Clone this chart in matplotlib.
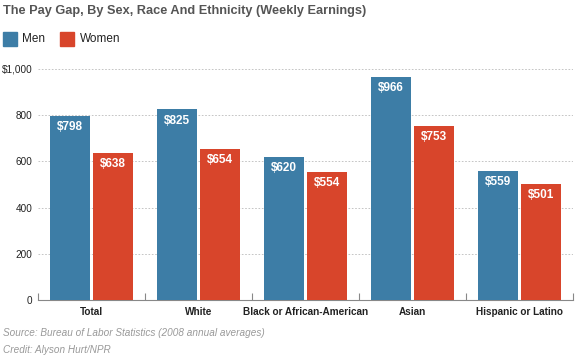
import matplotlib.pyplot as plt
import numpy as np

# data
groups = ['Total', 'White', 'Black or African-American', 'Asian', 'Hispanic or Latino']
men = [798, 825, 620, 966, 559]
women = [638, 654, 554, 753, 501]
yticks = [0, 200, 400, 600, 800, 1000]
ytick_labels = ['0', '200', '400', '600', '800', '$1,000']

blue = '#3d7da6'
red = '#d8452b'

plt.rcParams['font.family'] = ['Liberation Sans', 'DejaVu Sans']

fig = plt.figure(figsize=(5.78, 3.56), dpi=100)
ax = fig.add_axes([38 / 578, 1 - 300 / 356, 535 / 578, 231 / 356])

x = np.arange(len(groups))
w = 0.375
off = 0.2
b1 = ax.bar(x - off, men, w, color=blue, zorder=3)
b2 = ax.bar(x + off, women, w, color=red, zorder=3)

# value labels inside the top of each bar
for bars, vals in ((b1, men), (b2, women)):
    for rect, v in zip(bars, vals):
        ax.text(rect.get_x() + rect.get_width() / 2, v - 48, '$%d' % v,
                ha='center', va='center', color='white', fontsize=8.5,
                fontweight='bold', zorder=4)

ax.set_xlim(-0.5, len(groups) - 0.5)
ax.set_ylim(0, 1000)
ax.set_yticks(yticks)
ax.set_yticklabels(ytick_labels, fontsize=7.2, color='#222222')
ax.tick_params(axis='y', length=0, pad=4)
ax.yaxis.grid(True, linestyle=(0, (2, 2)), color='#bbbbbb', linewidth=0.6, zorder=0)

ax.set_xticks(x)
ax.set_xticklabels(groups, fontsize=7.2, fontweight='bold', color='#222222')
ax.tick_params(axis='x', length=0, pad=5)
ax.set_xticks(np.arange(len(groups) + 1) - 0.5, minor=True)
ax.tick_params(axis='x', which='minor', direction='in', length=5, color='#888888', width=0.8)

for s in ('top', 'right', 'left'):
    ax.spines[s].set_visible(False)
ax.spines['bottom'].set_color('#888888')
ax.spines['bottom'].set_linewidth(0.8)

# title and legend
fig.text(3 / 578, 1 - 11 / 356, 'The Pay Gap, By Sex, Race And Ethnicity (Weekly Earnings)',
         fontsize=9.2, fontweight='bold', color='#555555', va='center', ha='left')
fig.patches.append(plt.Rectangle((3 / 578, 1 - 46 / 356), 14 / 578, 14 / 356,
                                 transform=fig.transFigure, color=blue))
fig.text(22 / 578, 1 - 39 / 356, 'Men', fontsize=8.5, color='#222222', va='center')
fig.patches.append(plt.Rectangle((60 / 578, 1 - 46 / 356), 14 / 578, 14 / 356,
                                 transform=fig.transFigure, color=red))
fig.text(80 / 578, 1 - 39 / 356, 'Women', fontsize=8.5, color='#222222', va='center')

# source and credit
fig.text(3 / 578, 1 - 333 / 356, 'Source: Bureau of Labor Statistics (2008 annual averages)',
         fontsize=7.2, style='italic', color='#999999', va='center')
fig.text(3 / 578, 1 - 350 / 356, 'Credit: Alyson Hurt/NPR',
         fontsize=7.2, style='italic', color='#999999', va='center')

plt.savefig('out.png', dpi=100)
